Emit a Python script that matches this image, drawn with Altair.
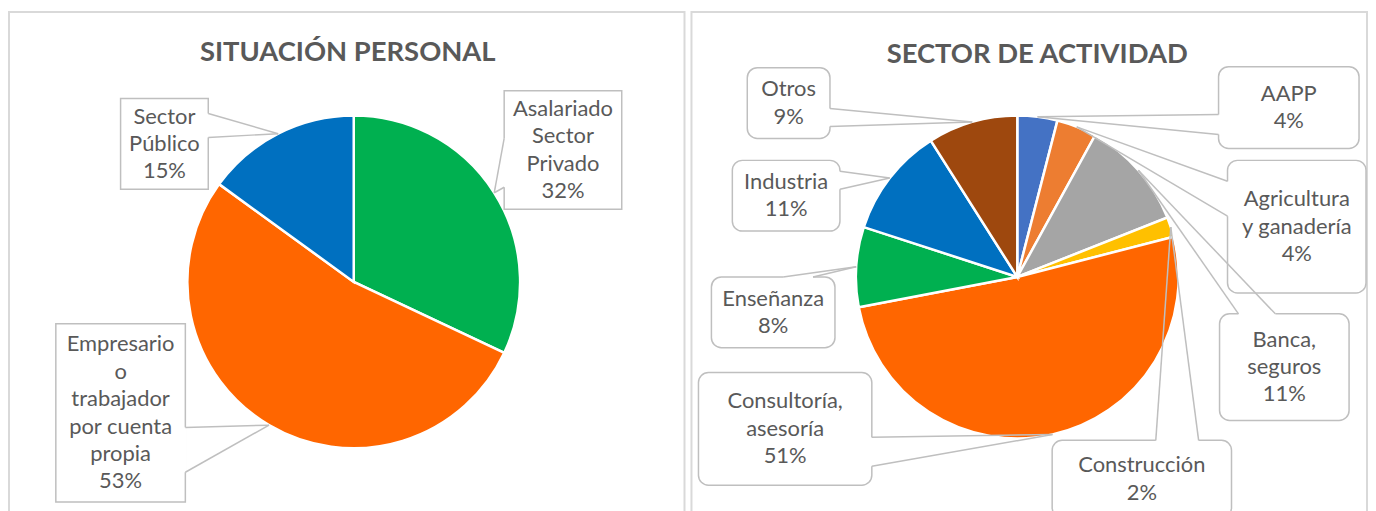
import math
import altair as alt
import pandas as pd

# ---------------- data ----------------
sp_title = "SITUACIÓN PERSONAL"
sp_names = ["Asalariado Sector Privado", "Empresario o trabajador por cuenta propia", "Sector Público"]
sp_values = [32, 53, 15]
sp_labels = ["Asalariado\nSector\nPrivado", "Empresario\no\ntrabajador\npor cuenta\npropia", "Sector\nPúblico"]
sp_colors = ["#00B050", "#FF6600", "#0070C0"]

sa_title = "SECTOR DE ACTIVIDAD"
sa_names = ["AAPP", "Agricultura y ganadería", "Banca, seguros", "Construcción",
            "Consultoría, asesoría", "Enseñanza", "Industria", "Otros"]
sa_values = [4, 4, 11, 2, 51, 8, 11, 9]
sa_labels = ["AAPP", "Agricultura\ny ganadería", "Banca,\nseguros", "Construcción",
             "Consultoría,\nasesoría", "Enseñanza", "Industria", "Otros"]
sa_colors = ["#4472C4", "#ED7D31", "#A5A5A5", "#FFC000", "#FF6600", "#00B050", "#0070C0", "#9E480E"]

# ---------------- layout (page pixel coordinates) ----------------
W, H = 678, 505
SPACING = 5
PAD_TOP = 2
Y0 = 8 + PAD_TOP
LEFT_X0 = 8
RIGHT_X0 = 8 + W + SPACING
LINE_H = 27.5

TEXT_COLOR = "#595959"
LINE_COLOR = "#BFBFBF"
FONT = "Lato"

sp_layout = dict(
    x0=LEFT_X0, center=(354, 281), radius=167, title_xy=(348, 51), rounded=0,
    boxes=[(505, 89, 623, 208), (55, 323, 185, 502), (120, 97, 208, 188)],
    bases=[((505, 137), (505, 186)), ((185, 427), (185, 472)), ((208, 112), (208, 136))],
)
sa_layout = dict(
    x0=RIGHT_X0, center=(1018, 276), radius=162, title_xy=(1038, 53), rounded=10,
    boxes=[(1220, 65, 1361, 147), (1229, 159, 1368, 292), (1221, 313, 1351, 420), (1053, 440, 1233, 518),
           (698, 372, 872, 485), (711, 276, 835, 347), (732, 159, 840, 230), (747, 66, 830, 137)],
    bases=[((1220, 113), (1220, 133)), ((1229, 180), (1229, 215)), ((1240, 313), (1277, 313)),
           ((1157, 440), (1200, 440)), ((872, 437), (872, 466)), ((783, 276), (813, 276)),
           ((840, 170), (840, 188)), ((830, 107), (830, 125))],
)


def panel(title, names, values, labels, colors, lay):
    x0 = lay["x0"]
    cx, cy = lay["center"]
    r = lay["radius"]
    xs = alt.Scale(domain=[0, W], nice=False, zero=False)
    ys = alt.Scale(domain=[0, H], reverse=True, nice=False, zero=False)

    pie_df = pd.DataFrame({"name": names, "value": values, "idx": list(range(len(names)))})
    arc = alt.Chart(pie_df).mark_arc(radius=r, stroke="white", strokeWidth=2.5).encode(
        theta=alt.Theta("value:Q", stack=True),
        order=alt.Order("idx:Q"),
        color=alt.Color("name:N", scale=alt.Scale(domain=names, range=colors), legend=None),
        x=alt.value(cx - x0),
        y=alt.value(cy - Y0),
    )

    total = float(sum(values))
    cum = 0.0
    box_rows, gap_rows, ptr_rows, txt_rows = [], [], [], []
    for name, v, lab, box, (b1, b2) in zip(names, values, labels, lay["boxes"], lay["bases"]):
        a = 2 * math.pi * (cum + v / 2.0) / total
        cum += v
        tx = cx + r * math.sin(a) - x0
        ty = cy - r * math.cos(a) - Y0
        bx0, by0, bx1, by1 = box
        box_rows.append({"x": bx0 - x0, "x2": bx1 - x0, "y": by0 - Y0, "y2": by1 - Y0})
        gap_rows.append({"x": b1[0] - x0, "y": b1[1] - Y0, "x2": b2[0] - x0, "y2": b2[1] - Y0})
        ptr_rows.append({"x": b1[0] - x0, "y": b1[1] - Y0, "x2": tx, "y2": ty})
        ptr_rows.append({"x": b2[0] - x0, "y": b2[1] - Y0, "x2": tx, "y2": ty})
        txt = f"{lab}\n{v}%"
        n_lines = txt.count("\n") + 1
        mid = (by0 + by1) / 2.0
        txt_rows.append({"x": (bx0 + bx1) / 2.0 - x0,
                         "y": mid - (n_lines - 1) * LINE_H / 2.0 - Y0,
                         "t": txt})

    enc_seg = dict(
        x=alt.X("x:Q", scale=xs, axis=None), x2="x2:Q",
        y=alt.Y("y:Q", scale=ys, axis=None), y2="y2:Q",
    )
    boxes = alt.Chart(pd.DataFrame(box_rows)).mark_rect(
        fill="white", stroke=LINE_COLOR, strokeWidth=1.5, cornerRadius=lay["rounded"], clip=True
    ).encode(**enc_seg)
    gaps = alt.Chart(pd.DataFrame(gap_rows)).mark_rule(color="white", strokeWidth=3).encode(**enc_seg)
    ptrs = alt.Chart(pd.DataFrame(ptr_rows)).mark_rule(color=LINE_COLOR, strokeWidth=1.5).encode(**enc_seg)
    texts = alt.Chart(pd.DataFrame(txt_rows)).mark_text(
        font=FONT, fontSize=22, color=TEXT_COLOR, lineBreak="\n", lineHeight=LINE_H,
        align="center", baseline="middle"
    ).encode(
        x=alt.X("x:Q", scale=xs, axis=None),
        y=alt.Y("y:Q", scale=ys, axis=None),
        text="t:N",
    )
    ttl = alt.Chart(pd.DataFrame({"t": [title]})).mark_text(
        font=FONT, fontSize=27.5, fontWeight="bold", color=TEXT_COLOR,
        align="center", baseline="middle"
    ).encode(
        text="t:N",
        x=alt.value(lay["title_xy"][0] - x0),
        y=alt.value(lay["title_xy"][1] - Y0),
    )
    return alt.layer(arc, boxes, gaps, ptrs, texts, ttl).properties(width=W, height=H)


left = panel(sp_title, sp_names, sp_values, sp_labels, sp_colors, sp_layout)
right = panel(sa_title, sa_names, sa_values, sa_labels, sa_colors, sa_layout)

chart = alt.hconcat(left, right, spacing=SPACING).resolve_scale(
    color="independent", theta="independent"
).properties(
    padding={"left": 0, "top": PAD_TOP, "right": 0, "bottom": 0},
    background="white",
).configure_view(stroke="#D9D9D9", strokeWidth=2)

chart.save("out.html", embed_options={"renderer": "svg", "actions": False})
